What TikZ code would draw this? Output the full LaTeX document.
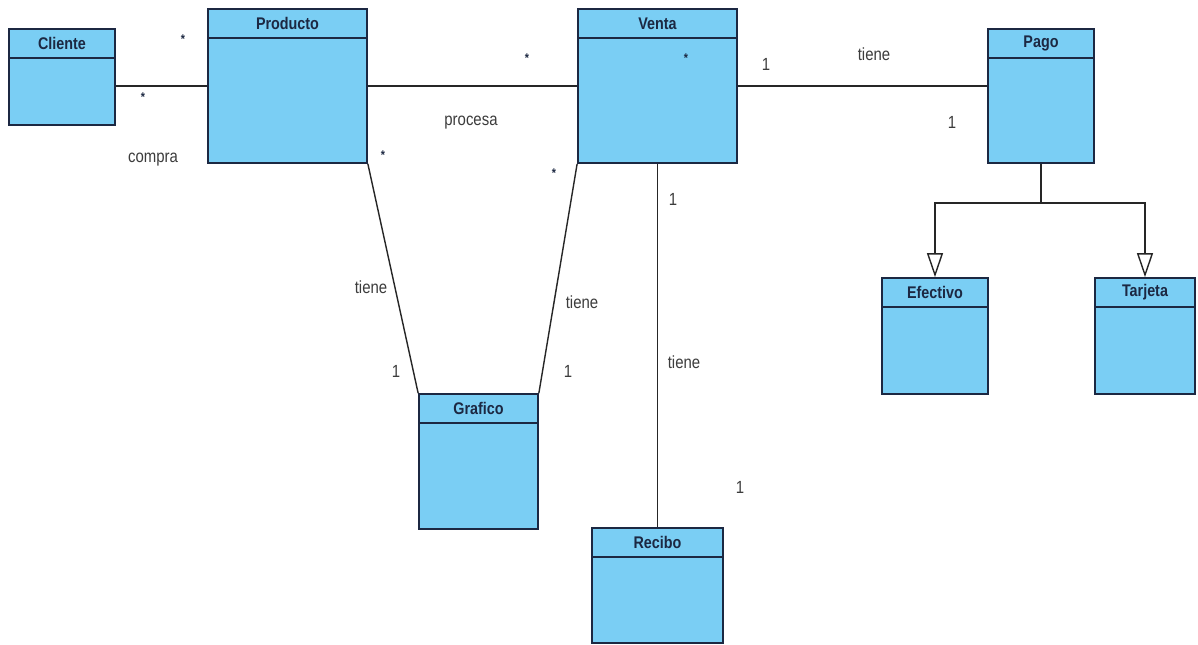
\documentclass[tikz,border=0pt]{standalone}
\usepackage{fontspec}
\newfontfamily\umlfont[FakeStretch=0.85]{Liberation Sans}
\usetikzlibrary{arrows.meta}

\definecolor{clsfill}{RGB}{122,206,244}
\definecolor{clsline}{RGB}{28,40,66}
\definecolor{lbl}{RGB}{60,60,60}

\tikzset{
	cls/.style={draw=clsline, fill=clsfill, line width=1.2pt, inner sep=0pt},
	hdr/.style={cls, minimum height=0.725cm, font=\umlfont\fontsize{12}{14}\selectfont\bfseries, text=clsline},
	assoc/.style={draw=black!85, line width=1pt},
	gen/.style={assoc, -{Triangle[open, length=0.6cm, width=0.4cm, fill=white, line width=1pt]}},
	lab/.style={inner sep=0pt, text=lbl, font=\umlfont\fontsize{12.5}{14}\selectfont},
	mult/.style={inner sep=0pt, text=clsline, font=\umlfont\fontsize{9}{10}\selectfont\bfseries},
}

\begin{document}
\begin{tikzpicture}[x=0.025cm, y=-0.025cm]
	\useasboundingbox[fill=white] (0,0) rectangle (1198,645);
	
	\begin{scope}
	\node[cls, minimum width=2.65cm, minimum height=2.4cm] (cliente) at (62,77) {};
	\node[hdr, minimum width=2.65cm, anchor=north] (cliente-h) at (cliente.north) {Cliente};
	\node[cls, minimum width=3.975cm, minimum height=3.85cm] (producto) at (287.5,86) {};
	\node[hdr, minimum width=3.975cm, anchor=north] (producto-h) at (producto.north) {Producto};
	\node[cls, minimum width=3.975cm, minimum height=3.85cm] (venta) at (657.5,86) {};
	\node[hdr, minimum width=3.975cm, anchor=north] (venta-h) at (venta.north) {Venta};
	\node[cls, minimum width=2.65cm, minimum height=3.35cm] (pago) at (1041,96) {};
	\node[hdr, minimum width=2.65cm, anchor=north] (pago-h) at (pago.north) {Pago};
	\end{scope}
	
	\begin{scope}
	\node[cls, minimum width=2.65cm, minimum height=2.9cm] (efectivo) at (935,336) {};
	\node[hdr, minimum width=2.65cm, anchor=north] (efectivo-h) at (efectivo.north) {Efectivo};
	\node[cls, minimum width=2.5cm, minimum height=2.9cm] (tarjeta) at (1145,336) {};
	\node[hdr, minimum width=2.5cm, anchor=north] (tarjeta-h) at (tarjeta.north) {Tarjeta};
	\node[cls, minimum width=2.975cm, minimum height=3.375cm] (grafico) at (478.5,461.5) {};
	\node[hdr, minimum width=2.975cm, anchor=north] (grafico-h) at (grafico.north) {Grafico};
	\node[cls, minimum width=3.275cm, minimum height=2.875cm] (recibo) at (657.5,585.5) {};
	\node[hdr, minimum width=3.275cm, anchor=north] (recibo-h) at (recibo.north) {Recibo};
	\end{scope}
	
	\begin{scope}
	\draw[assoc] (producto.west) -- (producto.west -| cliente.east);
	\draw[assoc] (producto.east) -- (venta.west);
	\draw[assoc] (venta.east) -- (venta.east -| pago.west);
	\draw[assoc] (producto.south east) -- (grafico.north west);
	\draw[assoc] (venta.south west) -- (grafico.north east);
	\draw[assoc] (venta.south) -- (recibo.north);
	\coordinate (split) at ([yshift=-0.975cm]pago.south);
	\draw[assoc] (pago.south) -- (split);
	\draw[gen] (split) -| (efectivo.north);
	\draw[gen] (split) -| (tarjeta.north);
	\end{scope}
	
	\begin{scope}
	\node[mult] (m1) at (183,39) {*};
	\node[mult] (m2) at (143,97) {*};
	\node[lab] (compra) at (153,160) {compra};
	\node[mult] (m3) at (527,58) {*};
	\node[lab] (procesa) at (471,123) {procesa};
	\node[mult] (m4) at (686,58) {*};
	\node[lab] (m5) at (766,64) {1};
	\node[lab] (tiene1) at (874,54) {tiene};
	\node[lab] (m6) at (952,122) {1};
	\node[mult] (m7) at (383,155) {*};
	\node[mult] (m8) at (554,173) {*};
	\node[lab] (tiene2) at (371,287) {tiene};
	\node[lab] (tiene3) at (582,302) {tiene};
	\node[lab] (m9) at (396,371) {1};
	\node[lab] (m10) at (568,371) {1};
	\node[lab] (m11) at (673,199) {1};
	\node[lab] (tiene4) at (684,362) {tiene};
	\node[lab] (m12) at (740,487) {1};
	\end{scope}
\end{tikzpicture}
\end{document}
